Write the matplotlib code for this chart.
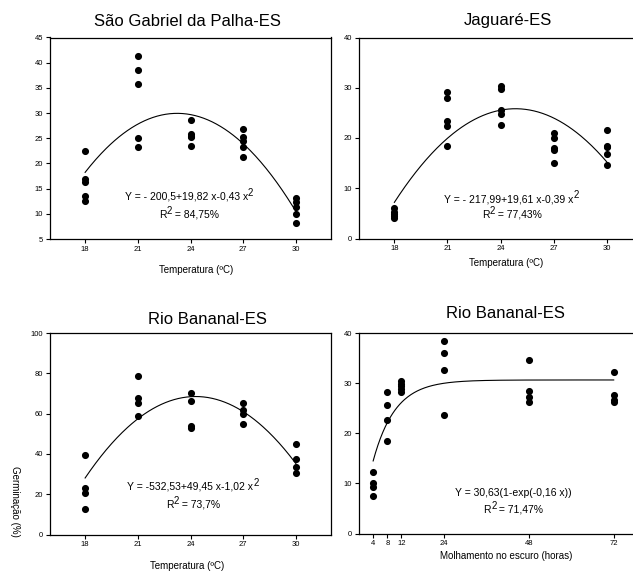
import matplotlib
matplotlib.use('Agg')
import matplotlib.pyplot as plt
import numpy as np
from matplotlib.transforms import IdentityTransform

plt.rcParams['font.family'] = ['Liberation Sans', 'DejaVu Sans']

W, H = 633, 572

# temperature panels: x levels and germination (%) readings
temps = [18, 21, 24, 27, 30]

sg_values = [
    [22.5, 16.9, 16.4, 13.6, 12.6],
    [41.4, 38.5, 35.7, 25.1, 23.2],
    [28.7, 25.9, 25.5, 25.2, 23.4],
    [26.9, 25.2, 24.5, 23.3, 21.2],
    [13.2, 12.3, 11.4, 9.9, 8.1],
]
jg_values = [
    [6.0, 5.2, 4.8, 4.4, 4.0],
    [29.2, 27.9, 23.3, 22.3, 18.4],
    [30.3, 29.7, 25.6, 24.8, 22.5],
    [20.9, 20.0, 18.0, 17.7, 15.0],
    [21.5, 18.5, 18.3, 16.8, 14.6],
]
rb_values = [
    [39.7, 23.3, 20.8, 12.6],
    [78.8, 67.9, 65.5, 59.0],
    [70.4, 66.4, 53.9, 53.0],
    [65.5, 62.0, 60.0, 54.7],
    [45.0, 37.4, 33.6, 30.6],
]

# soaking panel
hours = [4, 8, 12, 24, 48, 72]
soak_values = [
    [12.2, 10.1, 9.3, 7.4],
    [28.2, 25.7, 22.7, 18.5],
    [30.4, 29.9, 29.4, 28.8, 28.2],
    [38.4, 36.0, 32.7, 23.7],
    [34.7, 28.5, 27.2, 26.3],
    [32.2, 27.6, 26.6, 26.2],
]
soak_a, soak_b = 30.63, 0.16

fig = plt.figure(figsize=(W / 100, H / 100), dpi=100)
renderer = fig.canvas.get_renderer()


def px_axes(left, right, top, bottom):
    return fig.add_axes([left / W, 1 - bottom / H, (right - left) / W, (bottom - top) / H])


def style(ax):
    for s in ax.spines.values():
        s.set_linewidth(0.9)
    ax.tick_params(direction='out', length=3, width=0.8, labelsize=5.5, pad=2)


def flatten(xs, groups):
    x, y = [], []
    for xv, g in zip(xs, groups):
        x += [xv] * len(g)
        y += g
    return np.array(x, float), np.array(y, float)


def eq_line(ax, cx, cy, parts, fs=7.5):
    """Write a centred line made of pieces; a '^' prefix marks a raised piece."""
    pieces = []
    for p in parts:
        sup = p.startswith('^')
        t = ax.text(0, 0, p[1:] if sup else p, fontsize=fs * 0.92 if sup else fs,
                    va='baseline', ha='left', transform=IdentityTransform())
        pieces.append((t, sup))
    widths = [t.get_window_extent(renderer).width for t, _ in pieces]
    px, py = ax.transAxes.transform((cx, cy))
    x = px - sum(widths) / 2
    base = py - fs * 0.36
    for (t, sup), w in zip(pieces, widths):
        t.set_position((x, base + (fs * 0.5 if sup else 0)))
        x += w


def quad_panel(ax, groups, ylim, yticks, eq, r2, tx, ty1, ty2):
    x, y = flatten(temps, groups)
    coef = np.polyfit(x, y, 2)
    xs = np.linspace(18, 30, 200)
    ax.plot(xs, np.polyval(coef, xs), color='black', lw=0.8)
    ax.plot(x, y, 'o', color='black', ms=4.1)
    ax.set_xlim(16, 32)
    ax.set_ylim(*ylim)
    ax.set_xticks(temps)
    ax.set_yticks(yticks)
    eq_line(ax, tx, ty1, [eq, '^2'])
    eq_line(ax, tx, ty2, ['R', '^2', r2])
    style(ax)


ax1 = px_axes(50, 331, 37.5, 239)
quad_panel(ax1, sg_values, (5, 45), range(5, 46, 5),
           'Y = - 200,5+19,82 x-0,43 x', ' = 84,75%', 0.495, 0.208, 0.119)

ax2 = px_axes(359, 642, 37.5, 238.5)
quad_panel(ax2, jg_values, (0, 40), range(0, 41, 10),
           'Y = - 217,99+19,61 x-0,39 x', ' = 77,43%', 0.539, 0.195, 0.116)

ax3 = px_axes(50, 331, 333, 534.5)
quad_panel(ax3, rb_values, (0, 100), range(0, 101, 20),
           'Y = -532,53+49,45 x-1,02 x', ' = 73,7%', 0.509, 0.236, 0.145)

ax4 = px_axes(359, 642, 333, 533.5)
x4, y4 = flatten(hours, soak_values)
hs = np.linspace(4, 72, 300)
ax4.plot(hs, soak_a * (1 - np.exp(-soak_b * hs)), color='black', lw=0.8)
ax4.plot(x4, y4, 'o', color='black', ms=4.1)
ax4.set_xlim(0, 80)
ax4.set_ylim(0, 40)
ax4.set_xticks(hours)
ax4.set_yticks(range(0, 41, 10))
eq_line(ax4, 0.546, 0.2, ['Y = 30,63(1-exp(-0,16 x))'])
eq_line(ax4, 0.546, 0.116, ['R', '^2', ' = 71,47%'])
style(ax4)

# titles and axis labels placed by pixel position
titles = [('São Gabriel da Palha-ES', 187, 22), ('Jaguaré-ES', 508, 20),
          ('Rio Bananal-ES', 207, 319), ('Rio Bananal-ES', 505, 313)]
for t, px, py in titles:
    fig.text(px / W, 1 - py / H, t, ha='center', va='center', fontsize=12)

xlabels = [('Temperatura (ºC)', 196, 270), ('Temperatura (ºC)', 506, 263),
           ('Temperatura (ºC)', 187, 566), ('Molhamento no escuro (horas)', 506, 556)]
for t, px, py in xlabels:
    fig.text(px / W, 1 - py / H, t, ha='center', va='center', fontsize=7)

fig.text(15 / W, 1 - 501 / H, 'Germinação (%)', rotation=-90, ha='center', va='center', fontsize=7)

fig.savefig('out.png', dpi=100)
